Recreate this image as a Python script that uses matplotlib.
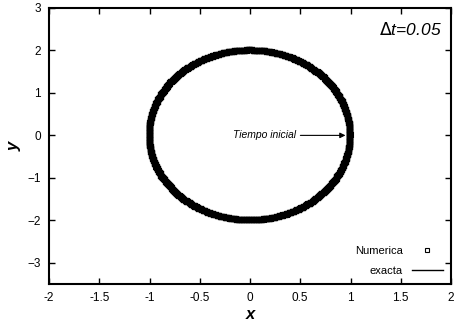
import numpy as np
import matplotlib.pyplot as plt

plt.rcParams['font.family'] = ['Liberation Sans', 'DejaVu Sans']

# semiejes de la elipse y paso temporal
a, b = 1.0, 2.0
dt = 0.05
n_vueltas = 12

x_ticks = [-2, -1.5, -1, -0.5, 0, 0.5, 1, 1.5, 2]
y_ticks = [-3, -2, -1, 0, 1, 2, 3]

# solucion numerica (paso dt, varias vueltas) y exacta (curva fina)
t_num = np.arange(0, n_vueltas * 2 * np.pi, dt)
x_num = a * np.cos(t_num)
y_num = b * np.sin(t_num)
t_ex = np.linspace(0, 2 * np.pi, 600)
x_ex = a * np.cos(t_ex)
y_ex = b * np.sin(t_ex)

fig = plt.figure(figsize=(4.58, 3.25), dpi=100)
ax = fig.add_axes([49 / 458, 1 - 284 / 325, 402 / 458, 276 / 325])

ax.plot(x_num, y_num, 's', ms=3.4, mfc='none', mec='black', mew=1.5,
        label='Numerica')
ax.plot(x_ex, y_ex, '-', color='black', lw=1, label='exacta')

ax.set_xlim(-2, 2)
ax.set_ylim(-3.5, 3)
ax.set_xticks(x_ticks)
ax.set_xticklabels([f'{v:g}' for v in x_ticks])
ax.set_yticks(y_ticks)
ax.tick_params(direction='in', length=4, width=1, top=True, right=True,
               labelsize=8.5, pad=6)
for s in ax.spines.values():
    s.set_linewidth(1.5)

ax.set_xlabel('x', fontsize=12, fontweight='bold', style='italic', labelpad=2)
ax.set_ylabel('y', fontsize=12, fontweight='bold', style='italic', labelpad=4)

ax.text(1.91, 2.5, r'$\Delta$' + 't=0.05', fontsize=12.5, style='italic',
        ha='right', va='center')
ax.annotate('Tiempo inicial', xy=(0.95, 0), xytext=(0.46, 0),
            fontsize=7.5, style='italic', ha='right', va='center',
            arrowprops=dict(arrowstyle='-|>', color='black', lw=0.8,
                            mutation_scale=8, shrinkA=1, shrinkB=0))

leg = ax.legend(loc='lower right', frameon=False, markerfirst=False,
                fontsize=8, handlelength=2.8, borderaxespad=0.35,
                labelspacing=0.9)
leg.legend_handles[0].set_markersize(3)
leg.legend_handles[0].set_markeredgewidth(0.8)

fig.savefig('out.png', dpi=100)
